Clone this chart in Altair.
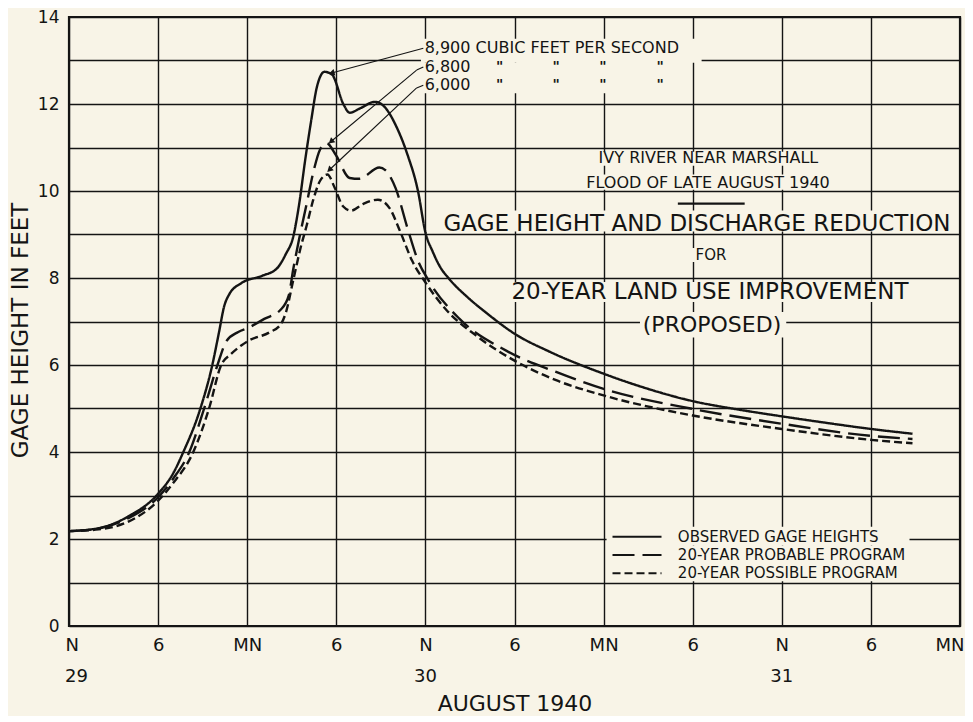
import json
import math
import altair as alt
import pandas as pd

# ---------------- data ----------------
series_names = ["OBSERVED GAGE HEIGHTS", "20-YEAR PROBABLE PROGRAM", "20-YEAR POSSIBLE PROGRAM"]

obs_hours = [0, 2, 4, 6, 7.0, 7.7, 8.8, 9.65, 10.1, 10.45, 10.8, 11.6, 13.0, 14.0, 14.6, 15.1,
             15.5, 15.9, 16.3, 16.7, 17.2, 17.7, 18.5, 18.9, 19.6, 20.6, 21.2, 22.1, 22.8, 23.5,
             24.0, 24.5, 25.0, 25.6, 26.8, 28.1, 30, 32.4, 36, 39, 42, 45, 48, 51, 54, 56.8]
obs_feet = [2.18, 2.25, 2.52, 3.04, 3.5, 4.0, 4.95, 6.0, 6.75, 7.35, 7.63, 7.88, 8.05, 8.22, 8.55, 8.95,
            9.7, 10.7, 11.6, 12.4, 12.74, 12.68, 11.98, 11.8, 11.9, 12.05, 11.95, 11.44, 10.83, 10.0,
            9.05, 8.6, 8.25, 7.98, 7.57, 7.2, 6.72, 6.3, 5.8, 5.45, 5.17, 4.98, 4.82, 4.67, 4.53, 4.42]

prob_hours = [0, 2, 4, 6, 7, 8.1, 9.1, 10.0, 10.6, 11.4, 12.1, 13.15, 14.25, 14.8, 15.1, 15.5,
              16.0, 16.5, 16.9, 17.35, 17.95, 18.9, 19.55, 20.9, 21.3, 22.0, 22.8, 23.5, 24.2,
              26.3, 29.5, 32.8, 36, 42, 48, 54, 56.8]
prob_feet = [2.18, 2.24, 2.48, 2.96, 3.38, 4.0, 5.0, 6.0, 6.55, 6.76, 6.86, 7.06, 7.27, 7.6, 8.2, 8.9,
             9.7, 10.5, 10.95, 11.1, 10.84, 10.3, 10.28, 10.54, 10.48, 10.06, 9.14, 8.4, 7.95,
             7.06, 6.32, 5.84, 5.45, 4.99, 4.65, 4.37, 4.3]

poss_hours = [0, 2, 4, 6, 7, 8.37, 9.43, 10.25, 10.9, 11.6, 12.1, 13.5, 14.25, 14.6, 15.1, 15.6,
              16.0, 16.45, 16.9, 17.4, 17.9, 18.45, 19.0, 19.8, 20.8, 21.6, 22.3, 23.1, 24.0,
              25.4, 27.4, 30, 32.8, 36, 42, 48, 54, 56.8]
poss_feet = [2.18, 2.22, 2.4, 2.88, 3.28, 4.0, 5.0, 6.0, 6.25, 6.45, 6.56, 6.75, 6.93, 7.2, 7.95, 8.7,
             9.2, 9.8, 10.23, 10.38, 10.07, 9.65, 9.55, 9.7, 9.8, 9.6, 9.07, 8.4, 7.9,
             7.27, 6.68, 6.1, 5.65, 5.3, 4.84, 4.53, 4.28, 4.2]

x_tick_hours = [0, 6, 12, 18, 24, 30, 36, 42, 48, 54, 60]
x_tick_labels = ["N", "6", "MN", "6", "N", "6", "MN", "6", "N", "6", "MN"]
y_tick_values = list(range(0, 15))
day_labels = ["29", "30", "31"]
day_hours = [0, 24, 48]

# discharge annotations
flow_texts = ["8,900 CUBIC FEET PER SECOND", "6,800", "6,000"]
flow_text_hr = [23.95, 23.95, 23.95]
flow_text_ft = [13.28, 12.85, 12.43]
ditto_hr = [29.0, 32.8, 35.95, 39.8]
ditto_rows_ft = [12.85, 12.43]
# pointer lines (hour, feet) start -> end
pointer_x1 = [23.86, 23.86, 23.41, 23.86, 23.41]
pointer_y1 = [13.28, 12.85, 12.78, 12.43, 12.37]
pointer_x2 = [17.75, 23.41, 17.69, 23.41, 17.58]
pointer_y2 = [12.72, 12.78, 11.15, 12.37, 10.5]
arrow_segments = [0, 2, 4]

# title block
title_lines = ["IVY RIVER NEAR MARSHALL", "FLOOD OF LATE AUGUST 1940",
               "GAGE HEIGHT AND DISCHARGE REDUCTION", "FOR",
               "20-YEAR LAND USE IMPROVEMENT", "(PROPOSED)"]
title_hr = [43.06, 43.03, 42.29, 43.23, 43.16, 43.3]
title_ft = [10.76, 10.19, 9.25, 8.52, 7.67, 6.92]
title_size = [16, 16, 23, 15, 23, 22]
title_rule_hr = [41.0, 45.5]
title_rule_ft = 9.71

# legend
legend_ft = [2.05, 1.63, 1.21]
legend_line_hr = [36.6, 39.9]
legend_text_hr = 41.0

# blanked-out panels behind lettering (hour1, hour2, feet1, feet2)
blank_x1 = [23.7, 23.7, 34.95, 34.4, 24.98, 41.95, 29.16, 38.45, 36.2, 36.2]
blank_x2 = [42.6, 41.6, 51.25, 51.65, 59.66, 44.5, 57.17, 48.3, 56.6, 59.7]
blank_y1 = [12.95, 12.25, 10.58, 10.03, 9.07, 8.37, 7.45, 6.63, 1.85, 1.03]
blank_y2 = [13.5, 12.95, 10.9, 10.38, 9.55, 8.69, 7.91, 7.22, 2.28, 1.85]

# ---------------- build tables ----------------
rows = []
for name, hrs, fts in zip(series_names, [obs_hours, prob_hours, poss_hours], [obs_feet, prob_feet, poss_feet]):
    for h, f in zip(hrs, fts):
        rows.append({"series": name, "hour": h, "feet": f})
curves = pd.DataFrame(rows)

BG = "#f8f4e7"
INK = "#141414"
FONT = "DejaVu Sans"
W, H = 891, 609
PX_HR = W / 60.0
PX_FT = H / 14.0

x_scale = alt.Scale(domain=[0, 60], nice=False, zero=False)
y_scale = alt.Scale(domain=[0, 14], nice=False, zero=True)
dash_scale = alt.Scale(domain=series_names, range=[[1, 0], [22, 8], [8, 4]])

label_expr = json.dumps(x_tick_labels) + "[round(datum.value / 6)]"

x_axis = alt.Axis(values=x_tick_hours, labelExpr=label_expr, grid=True, gridColor=INK, gridWidth=1.4,
                  gridOpacity=1, domain=False, ticks=False, labelPadding=10, labelFontSize=18,
                  labelFont=FONT, labelColor=INK, labelFlush=True, labelFlushOffset=4,
                  labelOverlap=False,
                  title="AUGUST 1940", titleFont=FONT, titleFontSize=22, titleFontWeight="normal",
                  titleColor=INK, titleY=89, titleBaseline="bottom")
y_axis = alt.Axis(values=y_tick_values, labelExpr="datum.value % 2 == 0 ? datum.value : ''",
                  grid=True, gridColor=INK, gridWidth=1.4, gridOpacity=1, domain=False, ticks=False,
                  labelPadding=10, labelFontSize=17, labelFont=FONT, labelColor=INK,
                  labelFlush=False, labelOverlap=False,
                  title="GAGE HEIGHT IN FEET", titleFont=FONT, titleFontSize=23,
                  titleFontWeight="normal", titleColor=INK, titleAngle=270, titleAlign="center",
                  titleBaseline="alphabetic", titleX=-42, titleY=313)

X = lambda f: alt.X(f, scale=x_scale)
Y = lambda f: alt.Y(f, scale=y_scale)

lines = alt.Chart(curves).mark_line(interpolate="monotone", color=INK, strokeWidth=2.4).encode(
    x=alt.X("hour:Q", scale=x_scale, axis=x_axis),
    y=alt.Y("feet:Q", scale=y_scale, axis=y_axis),
    strokeDash=alt.StrokeDash("series:N", scale=dash_scale, legend=None),
)

blanks = alt.Chart(pd.DataFrame({"x1": blank_x1, "x2": blank_x2, "y1": blank_y1, "y2": blank_y2})).mark_rect(
    fill=BG, strokeWidth=0).encode(x=X("x1:Q"), x2="x2:Q", y=Y("y1:Q"), y2="y2:Q")

# pointers
ptr = pd.DataFrame({"x1": pointer_x1, "y1": pointer_y1, "x2": pointer_x2, "y2": pointer_y2})
pointers = alt.Chart(ptr).mark_rule(color=INK, strokeWidth=1.1).encode(
    x=X("x1:Q"), x2="x2:Q", y=Y("y1:Q"), y2="y2:Q")

heads = []
for i in arrow_segments:
    dx = (pointer_x2[i] - pointer_x1[i]) * PX_HR
    dy = -(pointer_y2[i] - pointer_y1[i]) * PX_FT
    ang = math.degrees(math.atan2(dx, -dy)) % 360
    heads.append({"hx": pointer_x2[i], "hy": pointer_y2[i], "ang": ang})
arrowheads = alt.Chart(pd.DataFrame(heads)).mark_point(shape="triangle", filled=True, size=45,
                                                       color=INK, opacity=1).encode(
    x=X("hx:Q"), y=Y("hy:Q"), angle=alt.Angle("ang:Q", scale=None))

flow = alt.Chart(pd.DataFrame({"t": flow_texts, "h": flow_text_hr, "f": flow_text_ft})).mark_text(
    align="left", baseline="middle", font=FONT, fontSize=16, color=INK).encode(
    x=X("h:Q"), y=Y("f:Q"), text="t:N")

ditto_rows = [{"h": h, "f": f, "t": '"'} for f in ditto_rows_ft for h in ditto_hr]
ditto = alt.Chart(pd.DataFrame(ditto_rows)).mark_text(
    align="center", baseline="middle", font=FONT, fontSize=14, fontWeight="bold", color=INK).encode(
    x=X("h:Q"), y=Y("f:Q"), text="t:N")

titles = alt.Chart(pd.DataFrame({"t": title_lines, "h": title_hr, "f": title_ft, "s": title_size})).mark_text(
    align="center", baseline="middle", font=FONT, color=INK).encode(
    x=X("h:Q"), y=Y("f:Q"), text="t:N", size=alt.Size("s:Q", scale=None, legend=None))

title_rule = alt.Chart(pd.DataFrame({"a": [title_rule_hr[0]], "b": [title_rule_hr[1]], "f": [title_rule_ft]})).mark_rule(
    color=INK, strokeWidth=2.4).encode(x=X("a:Q"), x2="b:Q", y=Y("f:Q"))

leg = pd.DataFrame({"series": series_names, "f": legend_ft,
                    "a": [legend_line_hr[0]] * 3, "b": [legend_line_hr[1]] * 3,
                    "th": [legend_text_hr] * 3})
legend_lines = alt.Chart(leg).mark_rule(color=INK, strokeWidth=2.0).encode(
    x=X("a:Q"), x2="b:Q", y=Y("f:Q"),
    strokeDash=alt.StrokeDash("series:N", scale=alt.Scale(domain=series_names, range=[[1, 0], [16, 6], [6, 3]]), legend=None))
legend_text = alt.Chart(leg).mark_text(align="left", baseline="middle", font=FONT, fontSize=15,
                                       color=INK).encode(x=X("th:Q"), y=Y("f:Q"), text="series:N")

days = pd.DataFrame({"t": day_labels, "h": day_hours})
day_first = alt.Chart(days).transform_filter("datum.h == 0").mark_text(
    align="left", baseline="middle", font=FONT, fontSize=18, color=INK, dx=-4).encode(
    x=X("h:Q"), y=alt.value(H + 51), text="t:N")
day_rest = alt.Chart(days).transform_filter("datum.h > 0").mark_text(
    align="center", baseline="middle", font=FONT, fontSize=18, color=INK).encode(
    x=X("h:Q"), y=alt.value(H + 51), text="t:N")

chart = alt.layer(
    lines, blanks, title_rule, pointers, arrowheads, flow, ditto, titles,
    legend_lines, legend_text, day_first, day_rest
).properties(
    width=W, height=H, background=BG,
    padding={"left": 61, "top": 9, "right": 5, "bottom": 90},
    autosize=alt.AutoSizeParams(type="none"),
).configure_view(stroke=INK, strokeWidth=2.2)

chart.save("out.html", embed_options={"renderer": "svg", "actions": False})
